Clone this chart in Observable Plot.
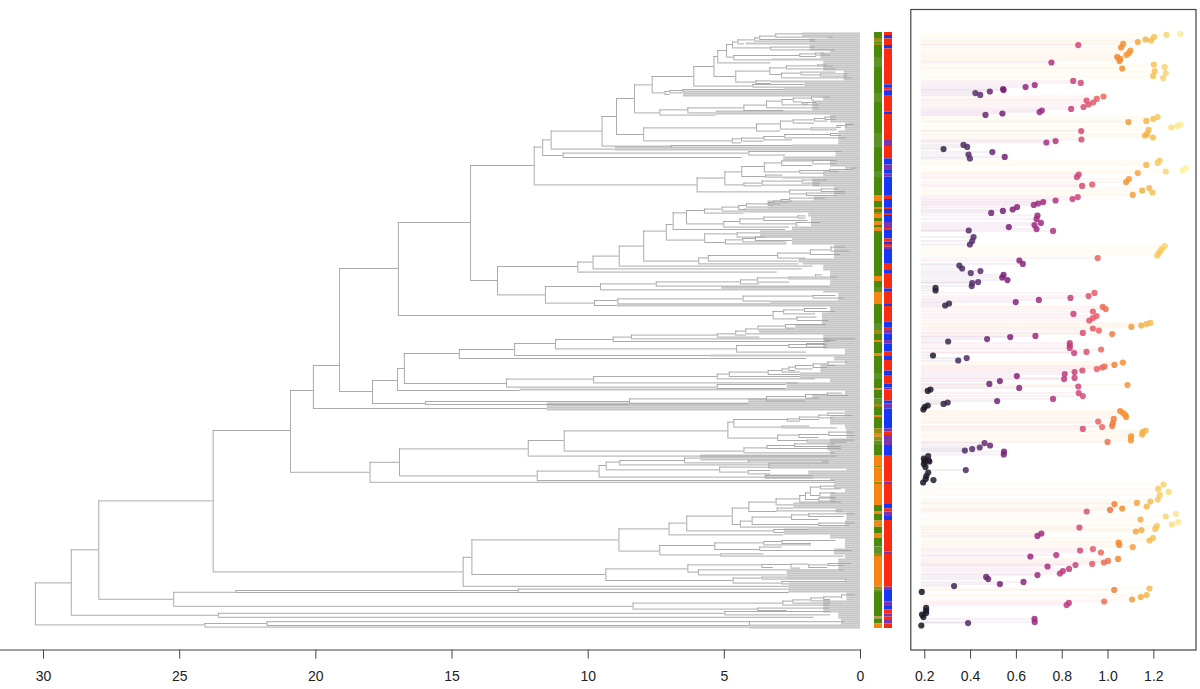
<!DOCTYPE html>
<html><head><meta charset="utf-8">
<script src="https://cdn.jsdelivr.net/npm/d3@7"></script>
<script src="https://cdn.jsdelivr.net/npm/@observablehq/plot@0.6"></script>
<style>html,body{margin:0;background:#fff}#row{display:flex;width:1200px;height:689px;overflow:hidden}svg{display:block}</style>
</head><body><div id="row"></div>
<script>
// ---- tree clades: [node age (Myr), row of upper arm, row of lower arm, upper child, lower child]
// a child that is a plain number is the age where that arm meets its tips
const c766=[3.11,.2,1.8,2.11,1.0], c718=[3.7,1.3,3,c766,1.65], c703=[3.88,2.2,3.8,c718,1.65], c652=[4.5,3.2,5.2,c703,4.26];
const c750=[3.3,6.8,8.2,1.65,.92], c636=[4.7,4.3,7.2,c652,c750];
const c838=[2.23,10.2,11.5,[1.65,9.8,10.8,1.32,1.1],1.62], c640=[4.65,11,13.2,c838,3.28];
const c618=[4.92,5.5,11.8,c636,c640], c592=[5.24,8.5,14.7,c618,3.3];
const c317=[2.72,16.2,17.7,[1.57,15.7,16.3,1.22,1.0],.89];
const c362=[2.18,19.3,20.7,.9,[1.47,20.2,21.3,.43,.49]], c303=[2.9,19.8,22.2,c362,.28];
const c748=[3.33,17.2,20.5,c317,c303], c706=[3.84,23.7,25,3.28,3.28], c646=[4.58,18.8,24.3,c748,c706];
const c581=[5.38,11.5,21.5,c592,c646], c697=[3.95,25.5,26.8,2.06,2.82], c520=[6.12,16.5,26.3,c581,c697];
const c487=[6.52,28,29.3,2.82,6.5], c448=[7.0,28.5,29.7,c487,6.52], c433=[7.18,29,30.5,c448,7.0], c395=[7.65,21.5,29.7,c520,c433];
const c393=[1.8,31.8,33.2,1.1,1.7], c338=[2.47,32.3,34.2,c393,[2.14,34.5,35.3,1.6,1.9]], c305=[2.88,33,35.7,c338,1.5];
const c258=[3.45,33.8,37.2,c305,1.53], c190=[4.28,35.8,38.5,c258,2.82], c22=[6.34,37.2,39.7,c190,5.3], c418=[7.37,38.2,40.8,c22,5.3];
const c342=[8.3,25.7,39.7,c395,c418];
const c434=[1.3,41.8,43,.86,.9], c402=[1.69,42.5,43.8,c434,1.2], c338b=[2.47,43.2,44.8,c402,1.69];
const c470=[.86,46,47,[.53,45.5,46.8,.22,.5],.7], c392=[1.81,47.2,48.2,c470,.86], c300=[2.94,43.8,47.8,c338b,c392];
const c228=[3.82,45.2,48.8,c300,2.94];
const c313=[2.78,50.5,52.2,[1.1,50,51,.8,.7],.51], c250=[3.55,51.5,53.2,c313,2.5], c183=[4.37,52.3,53.8,c250,3.55], c155=[4.71,52.7,54.7,c183,4.37];
const c370=[7.96,47.2,53.7,c228,c155], c288=[8.96,32.5,50.5,c342,c370], c452=[6.95,56,56.7,2.5,6.9];
const c245=[9.49,41.5,56.3,c288,c452], c92=[11.36,48.8,57.8,c245,9.0];
const c128=[10.92,59.8,62,[4.1,59,60.8,.67,2.75],4.35], c67=[11.67,53.2,61,c92,c128];
const c397=[1.75,63.5,65.2,.85,.86], c304=[2.89,63.7,66,c397,1.75];
const c448b=[1.13,68,69,[.31,67.3,68.2,.12,.3],.8], c358=[2.23,68.5,69.8,c448b,1.3], c252=[3.53,64.7,69.2,c304,c358];
const c255=[3.49,70.8,71.8,2.85,2.85], c184=[4.36,66.5,71.5,c252,c255];
const c365=[2.14,73.3,74.8,1.22,1.47], c245b=[3.61,73.8,75.8,c365,1.5], c190b=[4.28,74.8,76.2,c245b,3.61], c133=[4.98,69.2,75.7,c184,c190b];
const c422=[1.44,77.7,79,.8,.55], c378=[1.98,79.8,81,.53,.9], c327=[2.6,78.3,80.2,c422,c378], c50=[6.0,72.3,79.2,c133,c327];
const c41=[11.98,56.8,75.7,c67,c50];
const c328=[2.6,82.3,83.8,1.29,2.5], c302=[2.91,83,84.3,c328,2.6], c280=[3.18,83.8,85.2,c302,2.91], c265=[3.37,84.5,85.7,c280,3.18];
const c198=[4.19,85.2,86.8,c265,3.4], c175=[4.47,86,88,c198,4.19], c125=[5.08,86.8,88.8,c175,4.28], c72=[5.73,87.8,89.8,c125,4.28];
const c352=[2.3,91.2,92.3,2.0,2.0], c250b=[3.55,91.8,93.5,c352,1.93], c347=[2.36,94.5,96,1.47,2.3], c178=[4.43,92.7,95.2,c250b,c347];
const c130=[5.02,94,96.8,c178,2.6], c18=[6.39,88.5,95.2,c72,c130], c458=[6.88,89.7,98,c18,2.75];
const c225=[3.86,101.8,103.5,2.5,2.5], c187=[4.32,102.5,104.2,c225,2.7], c135=[4.96,103.2,105.2,c187,2.7];
const c73=[5.72,100.2,104.5,[4.53,99.7,101.8,3.67,3.5],c135], c437=[7.13,95.5,103.3,c458,c73];
const c932=[1.08,106.8,108.8,.54,.4], c870=[1.84,108.2,110.5,c932,.73], c772=[3.04,109.8,112.3,c870,2.0];
const c563=[5.59,111,113.8,c772,2.3], c535=[5.94,112.2,115.2,c563,2.26], c370b=[7.96,98.8,113.8,c437,c535];
const c296=[8.86,106.3,116.3,c370b,1.74], c218=[9.82,111.3,117.7,c296,2.14], c172=[10.38,114.3,119.3,c218,3.06];
const c885=[1.65,120.7,121.8,1.4,.83], c805=[2.63,121.8,122.7,c885,1.1], c710=[3.79,122.2,124.3,c805,2.6], c660=[4.41,123.2,125.2,c710,3.7];
const c407=[7.5,124.2,126.3,c660,1.1], c240=[9.55,125.2,128.2,c407,5.1];
const c878=[1.74,131,132.3,.9,.6], c668=[4.31,131.3,133.8,c878,3.3], c292=[8.91,132.7,135.2,c668,3.3], c222=[9.77,133.5,136,c292,8.93];
const c75=[11.57,126.5,134.8,c240,c222], c497=[13.33,116.5,130.7,c172,c75], c470b=[14.32,66,123.5,c41,c497];
const c852=[2.06,137.5,139,1.22,.92], c790=[2.82,138.2,140.2,c852,1.65], c830=[2.33,141.8,143.5,1.59,1.16], c758=[3.21,139,142.7,c790,c830];
const c398=[16.97,94.5,141,c470b,c758];
const c795=[2.75,145.5,147.3,1.25,2.4], c713=[3.76,146.3,148.2,c795,3.7], c676=[4.21,147.7,150.2,c713,3.7], c646b=[4.58,148.8,150.8,c676,4.2];
const c590=[5.26,150.2,151.8,c646b,3.7], c333=[8.41,150.8,152.7,c590,1.1], c278=[9.08,151.8,154,c333,1.1];
const c912=[1.3,152.7,153.5,.18,.9], c858=[1.98,155,156.8,c912,1.2], c805b=[2.63,155.5,157,1.22,1.2], c648=[4.55,156,159.3,c805b,c858];
const c102=[11.2,153,157.7,c278,c648], c514=[12.7,155,161,c102,5.5], c459=[14.73,158,162.5,c514,1.98];
const c922=[1.2,164.3,166,.47,.9], c878b=[1.74,165.2,167,c922,1.2], c825=[2.39,166,167.7,c878b,1.74], c805c=[2.63,166.8,168.5,c825,2.39];
const c785=[2.88,167.7,169.3,c805c,2.2], c743=[3.39,168.5,170.5,c785,2.2], c626=[4.82,169.3,171.5,c743,2.2], c590b=[5.26,170.3,172.7,c626,1.65];
const c219=[9.8,171.5,174.7,c590b,2.29], c590c=[5.26,175.5,177.5,2.73,2.73], c505=[13.0,172.8,176.8,c219,c590c];
const c404=[16.75,160,175,c459,c505], c397b=[17.0,167.5,178.5,c404,12.5];
const c920=[1.22,179.8,181,.67,.43], c855=[2.02,180.5,182.3,c920,1.5], c738=[3.45,181.5,183.8,c855,2.02], c327b=[8.48,182.7,185.2,c738,4.1];
const c425=[15.97,184,185.5,c327b,8.5], c372=[17.92,173.5,185,c397b,c425], c339=[19.13,117.5,179,c398,c372], c313b=[20.09,166,187.5,c339,11.5];
const c922b=[1.2,189.8,191,.55,.3], c895=[1.53,190.8,192.2,c922b,1.0], c837=[2.24,191.8,193,c895,1.5], c800=[2.69,192.7,193.8,c837,2.2];
const c785b=[2.88,196.3,197.2,1.86,.85], c640b=[4.65,193,196.8,c800,c785b];
const c925=[1.16,199.3,201,.24,.18], c835=[2.26,200.5,202,c925,1.53], c860=[1.96,203.3,204.3,.2,.5], c772b=[3.04,200.8,203.5,c835,c860];
const c622=[4.87,194.3,202.3,c640b,c772b], c740=[3.43,206,207.5,[2.42,205.2,206.5,.92,.7],.7], c670=[4.28,207.2,209.7,c740,.92];
const c131=[10.88,198.7,208.8,c622,c670], c527=[12.2,203.5,211.3,c131,.85];
const c492=[6.46,212.3,214.7,5.87,[4.12,213.7,214.7,1.15,1.15]], c298=[8.84,213.5,215.7,c492,3.3];
const c683=[4.12,218.5,220.2,3.3,3.3], c598=[5.17,216.8,219.3,3.3,c683], c257=[9.34,214.3,218.2,c298,c598];
const c236=[9.6,216,221.8,c257,[3.49,221,222.2,1.71,1.71]], c50b=[11.87,218.8,223.5,c236,.94];
const c399=[16.93,207.7,221.2,c527,c50b], c369=[18.01,214.4,224.4,c399,.94], c290=[20.93,178.5,219.4,c313b,c369];
const c900=[1.47,226.3,227.7,.9,.7], c898=[1.49,229.7,231.8,.9,.9], c870b=[1.84,226.8,231,c900,c898], c855b=[2.02,229.7,233,c870b,[1.53,232.3,233.8,.9,.9]];
const c838b=[2.23,231,234.3,c855b,.7], c767=[3.1,232.7,235.7,c838b,2.45], c685=[4.1,234.3,239,c767,[3.06,237.3,238.7,2.45,.65]];
const c865=[1.9,240.2,241.5,.2,.6], c813=[2.53,240.7,243,c865,1.53], c895b=[1.53,244.8,246,.2,.4], c695=[3.98,241.8,245.5,c813,c895b];
const c660b=[4.41,243.8,246.8,c695,1.9], c635=[4.71,237.3,245.5,c685,c660b];
const c499=[6.38,241.3,248.7,c635,[3.18,248,249.5,1.9,2.8]], c446=[7.03,244.8,250.7,c499,2.82];
const c785c=[2.88,253.5,255,.9,1.8], c730=[3.55,254,255.7,c785c,1.8], c718b=[3.7,256.8,258.5,2.88,.3], c583=[5.35,254.7,258,c730,c718b];
const c418b=[7.37,256,260.7,c583,[5.13,260.2,261.3,3.55,.6]], c295=[8.87,247.7,258.8,c446,c418b];
const c925b=[1.18,265,266,.33,.6], c865b=[1.9,265.7,267,c925b,1.2], c812=[2.55,265.3,267.3,c865b,2.2], c724=[3.62,265.5,267,c812,3.2];
const c534=[5.95,268.2,270.7,.6,2.73], c502=[6.34,265.7,269.3,c724,c534];
const c638=[4.68,272.3,274.8,[3.61,271.8,272.8,2.7,.5],[2.88,274,275.2,.5,2.63]], c256=[9.35,267.7,273.5,c502,c638];
const c1395=[14.27,253.2,270.5,c295,c256], c1370=[14.59,261.9,276.4,c1395,2.63], cC=[23.77,198.5,269.2,c290,c1370];
const c517=[12.57,277.8,279.5,2.63,2.63], c697b=[22.93,278.5,279.5,c517,2.63];
const c963=[.7,280.7,282.3,.18,.65], c910=[1.35,281.7,283,c963,1.1], c871=[1.82,282.2,283.7,c910,1.1], c817=[2.48,283.2,284.8,c871,1.1];
const c787=[2.85,283.8,285.8,c817,1.12], c338c=[8.35,284.8,287.8,c787,[3.77,287.3,288.5,1.13,2.69]];
const cD=[25.22,279.4,286.4,c697b,c338c], cB=[27.97,233.7,282.9,cC,cD];
const c645=[23.58,289.9,291.9,[4.98,289,290.7,1.1,1.1],1.71], cA=[28.98,258.2,290.9,cB,c645];
const c789=[21.79,294.1,296,[4.08,294.1,296,.58,4.08],4.08], c605=[24.07,295,296.8,c789,4.08];
const treeRoot=[30.3,274.7,295.7,cA,c605];

// ---- tip bands: [first row, last row, age where the tips begin]
const tipRuns=[[0,1,2.12],[2,2,1.2],[3,4,1.85],[5,5,4.2],[6,8,1.85],[9,9,1.1],[10,12,1.45],[13,13,3.28],[14,18,1.35],[19,23,.6],[24,24,3.28],[25,26,2.04],[27,28,2.82],[29,31,6.5],[32,33,1.35],[34,38,1.75],[39,40,5.3],[41,44,1.1],[45,48,.55],[49,55,.8],[56,56,2.5],[57,58,9],[59,61,.9],[62,63,2.82],[64,66,1.1],[67,68,.55],[69,71,1.35],[72,72,2.85],[73,76,1.75],[77,81,.95],[82,83,1.7],[84,87,3.4],[88,89,4.28],[90,91,1.9],[92,96,1.8],[97,98,2.5],[99,101,3.67],[102,105,2.5],[106,112,.95],[113,114,2.26],[115,115,2.1],[116,118,1.35],[119,126,1.1],[127,128,5.1],[129,129,1.35],[130,133,.8],[134,135,3.3],[136,136,8.93],[137,139,1.1],[140,145,1.4],[146,147,2.38],[148,150,3.7],[151,157,1.35],[158,160,.55],[161,161,5.5],[162,163,.95],[164,165,.55],[166,169,1.45],[170,172,2.2],[173,174,1.1],[175,177,2.7],[178,178,12.5],[179,180,.55],[181,182,1.75],[183,184,4.1],[185,188,11.5],[189,191,.55],[192,195,1.1],[196,197,.55],[198,202,.5],[203,205,1.1],[206,208,1.2],[209,210,1.1],[211,213,5.87],[214,214,1.4],[215,217,3.37],[218,218,.5],[219,220,1.9],[221,222,3.5],[223,223,1.1],[224,227,.95],[228,229,.55],[230,234,1.1],[235,237,2.45],[238,239,.9],[240,243,.5],[244,246,.55],[247,247,1.9],[248,250,2.8],[251,252,1.1],[253,257,.55],[258,260,.95],[261,262,.55],[263,268,.8],[269,272,2.7],[273,274,.55],[275,279,2.63],[280,283,.5],[284,289,1.35],[290,292,.8],[293,295,.7],[296,297,4.08]];

// ---- two trait strips: [state, row where the run ends]
const stateNames=["G","g","O","o","R","B","P"];
const stateColors=["#4a8a08","#5c9324","#f5860f","#9a8e10","#fb2a10","#1538f5","#7c35b0"];
const traitA=[["G",2.5],["o",4.3],["G",5],["o",6],["G",12],["g",17],["G",30],["g",34.5],["G",50],["g",57],["G",69],["g",72],["G",81],["O",84],["G",87],["O",88],["G",89.5],["o",90.5],["O",92.5],["G",94],["O",96],["G",97],["O",99],["G",121.5],["O",124],["G",127],["g",129.5],["O",135.5],["G",145],["g",148.5],["o",150.5],["G",153.5],["O",154.5],["G",160],["O",161.5],["G",170],["g",173],["G",177.7],["O",178.5],["G",182.7],["g",185.5],["o",187],["G",191],["O",192],["G",197.7],["o",200],["O",201.7],["o",203.8],["g",206],["G",211],["O",216.5],["o",217.3],["O",224.3],["o",225.5],["O",236],["G",239.3],["O",240.5],["G",243.8],["O",246.8],["G",250],["O",252.5],["G",256.7],["g",260],["o",261.5],["O",276.8],["o",278.2],["g",279.5],["G",291.8],["O",292.7],["G",295.2],["O",297.5]];
const traitB=[["R",1],["B",2.7],["R",6],["B",7.7],["R",25.7],["B",27],["R",28.2],["P",29],["B",31],["R",39.3],["B",40.5],["R",53.5],["P",56.5],["R",62.7],["B",65.7],["P",68.5],["B",70.2],["P",71.8],["B",81],["R",83],["B",87],["R",88],["B",90],["R",91],["B",94.5],["P",97.5],["R",98.5],["B",102.7],["R",104.3],["B",105.5],["R",106.8],["P",108],["B",115],["R",118.5],["B",120],["R",127.7],["B",129],["R",135.5],["B",136.5],["R",144.3],["B",147],["R",148.5],["P",150.2],["B",153.5],["P",155.2],["B",159.3],["R",161.5],["B",163.5],["R",168.8],["B",171],["R",175.2],["B",177.2],["P",178.2],["R",183.8],["B",185.2],["P",187.7],["B",197.7],["P",199.3],["R",201],["P",206],["B",211],["R",224.3],["P",225.5],["R",235.5],["B",237.7],["R",239.3],["P",241.5],["B",243.5],["R",259.3],["P",260.5],["R",276.8],["P",278.5],["B",284.3],["P",286.5],["B",288.2],["R",290.2],["P",291.8],["R",293.5],["P",295.2],["R",297.5]];

// ---- trait values per tip
const valuesA=[1.316,1.255,1.201,1.188,1.164,1.13,1.066,1.057,.87,1.098,1.092,1.081,1.04,1.054,1.05,.753,1.062,1.2,1.247,1.204,1.197,1.252,1.241,.848,.881,.68,.64,.542,.544,.484,.421,.442,.98,.951,.906,.935,.915,.893,.839,.711,.701,.539,.465,1.216,1.197,1.167,1.089,1.316,1.302,1.276,1.177,.883,1.171,1.161,1.196,.884,.771,.731,.369,.385,.282,.495,.391,.397,.549,1.225,1.217,1.167,1.34,1.325,1.252,1.13,.872,.864,1.091,1.079,.931,.887,1.18,1.149,1.194,1.108,.868,.845,.771,.717,.695,.676,.603,.584,.541,.49,.692,.688,.707,.679,.567,.688,.76,.392];
const rowsA=[.2,.7,1.8,3.5,3,4.3,5.2,7,5.8,8.5,9.7,10.7,11.8,12.7,13.8,14.5,17.5,15.5,16.8,18.8,21.2,19.8,22.3,23.7,24.7,25.8,26.8,27.8,28.3,29,29.8,30.7,31.5,32.7,33.5,34.5,35.5,36.8,37.7,38.5,39.3,40,40.7,41.8,42.8,43.7,44.3,45.5,46.2,47,48.2,48.8,50.2,51,52,53,53.8,54.5,55.7,56.7,57.8,59.3,60.5,62.5,61.7,63.5,64.7,65.7,67.3,68.5,69,69.8,70.5,71.8,72.8,74.3,75.5,76.2,77.3,78.5,79.5,80.7,81.8,82.8,83.5,84.3,85,85.7,86.8,88,88.7,89.7,91,92.7,94.7,95.8,96.8,97.8,98.7,98.5];
const valuesB=[.413,.407,.397,1.248,1.236,1.229,1.222,1.215,.955,.613,.628,.351,.363,.443,.401,.544,.538,.561,.433,.407,.405,.247,.247,.941,.915,.836,.698,.597,.306,.289,.977,.99,.934,.849,.95,.934,.918,1.185,1.168,1.145,1.102,.934,.96,.89,1.018,.683,.573,.472,.302,.833,.833,.833,.97,.906,.852,.236,.383,.346,1.065,1.028,.985,.974,.951,.888,.854,.811,.602,.854,.808,.528,.482,1.085,.87,.612,.225,.213,.872,.89,.76,.516,.3,.282,.213,.2,.194,1.053,1.066,1.076,1.079,1.025,.957,1.021,1.018,.974,.89,1.164,1.151,1.149,1.101,1.1,1.1,.998,.461,.485,.44,.407,.375,.546,.545,.215,.196,.217];
const rowsB=[101.8,103.8,105.5,106.3,107.5,108.8,109.7,111,112.3,113.5,115.2,116,117.5,118.8,119.8,120.7,122,123.3,124.3,124.8,126.3,127.2,128.5,129.7,131.3,132.2,133.2,134.3,135,136,136.7,137.8,139,140.2,141.3,142.3,143.5,144.7,145.3,146,146.7,147.5,148.5,149.7,150.3,151.2,151.8,152.8,154,154.8,156,157.2,158,159.2,159.8,161,162.3,163.5,164.5,165.7,166.5,167,167.8,168.5,169.3,170.3,171.3,172.2,172.8,173.8,175.2,175.8,176.5,177.2,178,178.7,179.8,181.3,182.7,183.8,184.5,185.2,186,186.8,188,188.8,189.8,190.8,191.8,192.7,194,194.8,196.3,196.8,197.7,198.5,199.3,200.5,201.3,202.3,203.5,204.2,204.8,206,207,207.8,208.5,209,210.5,211.3,212.5,213.5];
const valuesC=[.2,.22,.196,.203,.215,.379,.207,.204,.238,.193,1.242,1.219,1.265,1.226,1.217,1.185,1.126,1.028,1.169,1.062,1.009,.907,1.252,1.296,1.142,1.279,1.306,1.213,1.206,1.146,1.121,.875,.709,.692,1.196,1.181,1.046,1.049,1.108,.934,.878,.969,.774,.661,1.044,1,.982,.931,.858,.736,.83,.803,.79,.692,.468,.477,.631,.528,.328,1.181,1.027,.187,1.168,1.143,1.105,.983,.829,.819,.206,.206,.206,.188,.194,.679,.68,.389,.185];
const rowsC=[213.7,214,215.2,216.7,219.5,218.3,221.3,222.7,223.3,224.5,225.5,227.7,229.2,230.8,233,234,234.7,235.3,236.5,237.5,238.2,239,241.5,240.2,243,245.5,244.3,246.3,247.7,248.3,249,247,250,251.2,252.3,253.5,254.5,255.7,256.8,257.8,258.5,259.5,260.8,261.5,262.7,263.7,264.5,265.2,265.8,266.5,267.7,268.8,270,270.8,271.7,272.8,274.2,275.3,276.3,277.5,278.2,279.2,280.8,281.8,283,284,284.7,285.8,287.2,288.5,289.8,290.5,291.8,292.7,294.3,294.8,296];
const colorStops=[.18,.3,.42,.55,.7,.85,.95,1.05,1.2,1.33];
const colorRamp=["#17121f","#38264c","#5a2f6e","#7a1f78","#a02a80","#c9407c","#ea5f68","#f2892c","#f6c255","#fbf2a4"];
const ageTicks=[0,5,10,15,20,25,30];
const valueTicks=[.2,.4,.6,.8,1,1.2];
const valueBase=.185;

// ---- flatten
const arms=[],stems=[];
(function walk(n){const[a,t,b,ct,cb]=n;stems.push({age:a,r1:t,r2:b});
  for(const[row,c]of[[t,ct],[b,cb]]){const end=Array.isArray(c)?c[0]:c;arms.push({row,from:a,to:end});if(Array.isArray(c))walk(c);}
})(treeRoot);
const tips=tipRuns.flatMap(([f,l,age])=>d3.range(f,l+1).map(row=>({row,age})));
const runsOf=(name,runs)=>runs.map(([state,end],i)=>({strip:name,state,from:i?runs[i-1][1]:-.5,end}));
const strips=[...runsOf("A",traitA),...runsOf("B",traitB)];
const vals=[...valuesA,...valuesB,...valuesC], rws=[...rowsA,...rowsB,...rowsC];
const tipsRight=vals.map((v,i)=>({v,row:rws[i]}));

const H=689,Y={domain:[308.25,-12]},M={height:H,marginTop:9,marginBottom:39.5};
const font="'Liberation Sans',Arial,sans-serif";
const tree=Plot.plot({...M,width:865,marginLeft:0,marginRight:5,style:{fontFamily:font,background:"transparent"},
  x:{domain:[31.58,0],label:null},y:{...Y,axis:null},
  marks:[
    Plot.ruleY(tips,{y:"row",x1:"age",x2:0,stroke:"#c6c6c6",strokeWidth:2}),
    Plot.ruleY(arms,{y:"row",x1:"from",x2:"to",stroke:"#a2a2a2",strokeWidth:.9}),
    Plot.ruleX(stems,{x:"age",y1:"r1",y2:"r2",stroke:"#a2a2a2",strokeWidth:.9}),
    Plot.frame({anchor:"bottom",stroke:"#444"}),
    Plot.axisX({ticks:ageTicks,tickSize:9,tickPadding:12,fontSize:14,label:null,stroke:"#444",fill:"#222",tickFormat:d=>d})
  ]});
const strip=Plot.plot({...M,width:40,marginLeft:8,marginRight:12,
  x:{type:"band",domain:["A","B"],paddingInner:.18,paddingOuter:0,axis:null},y:{...Y,axis:null},
  color:{type:"ordinal",domain:stateNames,range:stateColors},
  marks:[Plot.barY(strips,{x:"strip",y1:"from",y2:"end",fill:"state"})]});
const dots=Plot.plot({...M,width:295,marginLeft:5.3,marginRight:4.5,style:{fontFamily:font,background:"transparent"},
  x:{domain:[.139,1.384],label:null},y:{...Y,axis:null},
  color:{type:"linear",domain:colorStops,range:colorRamp,interpolate:"rgb",clamp:true},
  marks:[
    Plot.ruleY(tipsRight,{y:"row",x1:valueBase,x2:"v",stroke:"v",strokeWidth:2,strokeOpacity:.07}),
    Plot.dot(tipsRight,{x:"v",y:"row",r:3.1,fill:"v",fillOpacity:.85}),
    Plot.frame({stroke:"#444",strokeWidth:1.2}),
    Plot.axisX({ticks:valueTicks,tickSize:9,tickPadding:12,fontSize:14,label:null,stroke:"#444",fill:"#222",tickFormat:d3.format(".1f")})
  ]});
const row=document.getElementById("row");row.append(tree,strip,dots);
</script></body></html>
